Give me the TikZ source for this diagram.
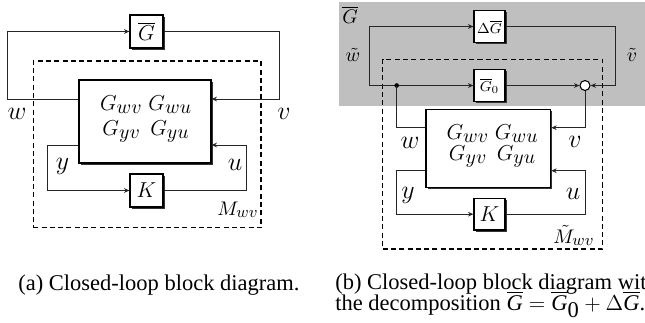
\documentclass[tikz,border=0pt]{standalone}
\usepackage[no-math]{fontspec}
\setmainfont{Liberation Serif}
\usetikzlibrary{arrows.meta,shadows}
\DeclareMathSizes{11}{11}{9.5}{7}
\DeclareMathSizes{11.5}{11.5}{10.5}{8}
\def\PX{0.5556pt}
\tikzset{
  wire/.style={line width=0.5pt, draw=black!85},
  arr/.style={-{Stealth[length=3pt,width=2.6pt]}},
  blk/.style={draw, line width=0.65pt, fill=white, inner sep=0pt,
    drop shadow={shadow xshift=0.9pt, shadow yshift=-0.9pt, fill=black!80, opacity=1}},
  bigfont/.style={font=\fontsize{12}{14}\selectfont},
  smallfont/.style={font=\fontsize{8}{10}\selectfont},
  entry/.style={inner sep=0pt, font=\fontsize{11.5}{13}\selectfont},
  dashbox/.style={draw, line width=0.7pt, dash pattern=on 2.8pt off 1.8pt, inner sep=0pt},
  sig/.style={inner sep=0pt, font=\fontsize{14}{16}\selectfont},
  sigsmall/.style={inner sep=0pt, font=\fontsize{11}{13}\selectfont},
  mlabel/.style={inner sep=0pt, font=\fontsize{11}{13}\selectfont},
  captext/.style={inner sep=0pt, font=\fontsize{12.5}{14}\selectfont},
  jdot/.style={circle, fill=black, inner sep=0pt, minimum size=2.6pt},
  sumc/.style={circle, draw, line width=0.6pt, fill=white, inner sep=0pt, minimum size=10*\PX}
}
\begin{document}
\begin{tikzpicture}[x=0.5556pt,y=-0.5556pt]
\useasboundingbox (0,0) rectangle (645,322);
\clip (0,0) rectangle (645,322);

% ---------------- (a) ----------------
\node[dashbox, minimum width=227.7*\PX, minimum height=166.7*\PX] (Ma) at (147.15,144.35) {};
\node[blk, bigfont, minimum width=33*\PX, minimum height=33*\PX] (Gb) at (146.5,31.5) {$\overline{G}$};
\node[blk, minimum width=132*\PX, minimum height=83*\PX] (P) at (145,121.5) {};
\node[entry, anchor=base] (P1) at (146,110) {$G_{wv}\;G_{wu}$};
\node[entry, anchor=base] (P2) at (146,135) {$G_{yv}\;\,G_{yu}$};
\node[blk, bigfont, minimum width=33*\PX, minimum height=33*\PX] (K) at (146.5,190.5) {$K$};

\coordinate (wL) at (7.3,99);
\coordinate (vR) at (279,99);
\coordinate (yL) at (47.7,145);
\coordinate (uR) at (246.7,145);
\draw[wire,arr] (P.west |- wL) -- (wL) |- (Gb.west);
\draw[wire,arr] (Gb.east) -| (vR) -- (P.east |- vR);
\draw[wire,arr] (P.west |- yL) -- (yL) |- (K.west);
\draw[wire,arr] (K.east) -| (uR) -- (P.east |- uR);

\node[sig] (lw) at (17,114) {$w$};
\node[sig] (lv) at (284,114) {$v$};
\node[sig] (ly) at (62.5,166) {$y$};
\node[sig] (lu) at (235,165) {$u$};
\node[mlabel, anchor=base west] (lM) at (217,215) {$M_{wv}$};

% ---------------- (b) ----------------
\fill[gray!50] (339,1.7) rectangle (645,106);
\node[dashbox, minimum width=220*\PX, minimum height=189.7*\PX] (Mb) at (492.7,154.15) {};
\node[mlabel] (lG) at (350,15) {$\overline{G}$};
\node[blk, smallfont, minimum width=31*\PX, minimum height=32*\PX] (DG) at (489.5,26.5) {$\Delta\overline{G}$};
\node[blk, smallfont, minimum width=31*\PX, minimum height=32*\PX] (G0) at (489.5,85.5) {$\overline{G}_0$};
\node[blk, minimum width=124.7*\PX, minimum height=78*\PX] (Q) at (488.35,148.3) {};
\node[entry, anchor=base] (Q1) at (492.5,139) {$G_{wv}\;G_{wu}$};
\node[entry, anchor=base] (Q2) at (492.5,160) {$G_{yv}\;\,G_{yu}$};
\node[blk, bigfont, minimum width=31*\PX, minimum height=31.7*\PX] (K2) at (489.5,214.2) {$K$};
\node[sumc] (S) at (585,85.5) {};

\coordinate (tl) at (369,85.5);
\coordinate (tr) at (615,85.5);
\coordinate (wb) at (396.7,127.7);
\coordinate (yb) at (396.7,170.7);
\coordinate (ub) at (585,170.7);
\draw[wire,arr] (tl) |- (DG.west);
\draw[wire,arr] (tl) -- (G0.west);
\draw[wire,arr] (G0.east) -- (S.west);
\draw[wire,arr] (DG.east) -| (tr) -- (S.east);
\node[jdot] (J) at (396.7,85.5) {};
\draw[wire] (J.center) |- (Q.west |- wb);
\draw[wire,arr] (S.south) |- (Q.east |- wb);
\draw[wire,arr] (Q.west |- yb) -- (yb) |- (K2.west);
\draw[wire,arr] (K2.east) -| (ub) -- (Q.east |- ub);

\node[sigsmall] (lwt) at (353,55) {$\tilde{w}$};
\node[sigsmall] (lvt) at (632,55) {$\tilde{v}$};
\node[sig] (lw2) at (410,142.5) {$w$};
\node[sig] (lv2) at (575,142) {$v$};
\node[sig] (ly2) at (408,195) {$y$};
\node[sig] (lu2) at (573,194) {$u$};
\node[mlabel, anchor=base west] (lM2) at (553,243) {$\tilde{M}_{wv}$};

% ---------------- captions ----------------
\node[captext, anchor=base west] (ca) at (18,290) {(a) Closed-loop block diagram.};
\node[captext, anchor=base west] (cb1) at (335,289) {(b) Closed-loop block diagram with};
\node[captext, anchor=base west] (cb2) at (335,310) {the decomposition $\overline{\textit{G}}=\overline{\textit{G}}_{\textrm{0}}+\Delta\overline{\textit{G}}$.};
\end{tikzpicture}
\end{document}
